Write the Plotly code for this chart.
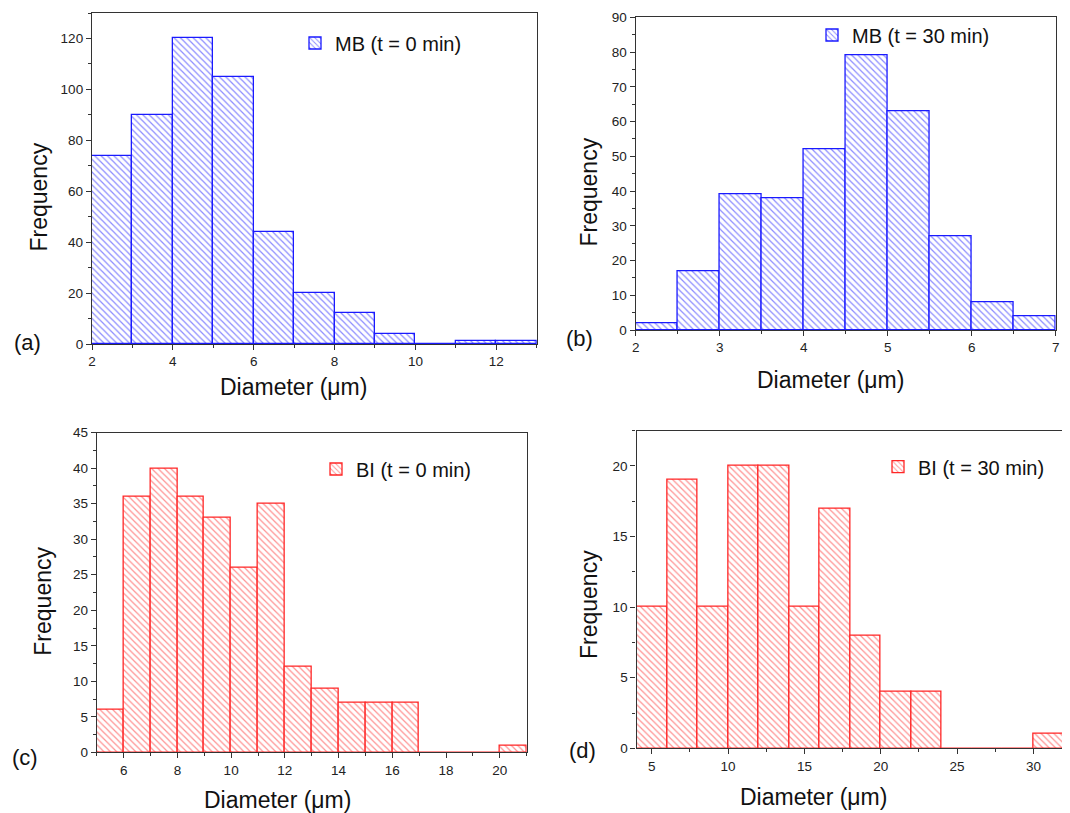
import plotly.graph_objects as go

# ---------------- data ----------------
# (a) MB, t = 0 min  (bin edges in µm, counts)
a_edges = [2, 3, 4, 5, 6, 7, 8, 9, 10, 11, 12, 13]
a_counts = [74, 90, 120, 105, 44, 20, 12, 4, 0, 1, 1]

# (b) MB, t = 30 min
b_edges = [2, 2.5, 3, 3.5, 4, 4.5, 5, 5.5, 6, 6.5, 7]
b_counts = [2, 17, 39, 38, 52, 79, 63, 27, 8, 4]

# (c) BI, t = 0 min
c_edges = [5, 6, 7, 8, 9, 10, 11, 12, 13, 14, 15, 16, 17, 18, 19, 20, 21]
c_counts = [6, 36, 40, 36, 33, 26, 35, 12, 9, 7, 7, 7, 0, 0, 0, 1]

# (d) BI, t = 30 min
d_edges = [4, 6, 8, 10, 12, 14, 16, 18, 20, 22, 24, 26, 28, 30, 32]
d_counts = [10, 19, 10, 20, 20, 10, 17, 8, 4, 4, 0, 0, 0, 1]

names = ["MB (t = 0 min)", "MB (t = 30 min)", "BI (t = 0 min)", "BI (t = 30 min)"]
panel_labels = ["(a)", "(b)", "(c)", "(d)"]
x_title = "Diameter (μm)"
y_title = "Frequency"

BLUE = "#1a1aff"
RED = "#ff2626"
FONT = "Liberation Sans, Arial, sans-serif"

# page body has an 8px default margin: the figure is offset by it
OFF = 8
W, H = 1070 - OFF, 813 - OFF


def px_x(v):
    return (v - OFF) / W


def px_y(v):
    return 1 - (v - OFF) / H


panels = [
    dict(edges=a_edges, counts=a_counts, color=BLUE, name=names[0],
         xdom=[92, 536.7], ydom=[344, 13], xr=[2, 13], yr=[0, 130],
         xd=2, xm=1, yd=20, ym=10,
         leg=(295, 43), lab=(27.5, 342), xt=(293, 387), yt=(38, 197.5)),
    dict(edges=b_edges, counts=b_counts, color=BLUE, name=names[1],
         xdom=[635.7, 1055.7], ydom=[330, 17.3], xr=[2, 7], yr=[0, 90],
         xd=1, xm=0.5, yd=10, ym=5,
         leg=(812, 35), lab=(579, 338), xt=(830.5, 380), yt=(589, 192.5)),
    dict(edges=c_edges, counts=c_counts, color=RED, name=names[2],
         xdom=[96.8, 526.7], ydom=[752.3, 432.7], xr=[5, 21], yr=[0, 45],
         xd=2, xm=1, yd=5, ym=2.5,
         leg=(316, 469), lab=(25, 757), xt=(277, 800), yt=(43, 601.7)),
    dict(edges=d_edges, counts=d_counts, color=RED, name=names[3],
         xdom=[636.5, 1064], ydom=[748.3, 430.7], xr=[4, 32], yr=[0, 22.5],
         xd=5, xm=2.5, yd=5, ym=2.5,
         leg=(878, 466.7), lab=(582, 750), xt=(813, 796.7), yt=(589, 605)),
]

fig = go.Figure()
annotations = []
layout_upd = {}

for i, p in enumerate(panels):
    k = "" if i == 0 else str(i + 1)
    edges, counts = p["edges"], p["counts"]
    centers = [(edges[j] + edges[j + 1]) / 2 for j in range(len(counts))]
    widths = [edges[j + 1] - edges[j] for j in range(len(counts))]
    fig.add_trace(go.Bar(
        x=centers, y=counts, width=widths, name=p["name"],
        xaxis="x" + k, yaxis="y" + k,
        legend="legend" + k,
        marker=dict(color="white",
                    line=dict(color=p["color"], width=1.3),
                    pattern=dict(shape="\\", fgcolor=p["color"], bgcolor="white",
                                 size=4.5, solidity=0.28)),
        showlegend=True,
    ))

    axis_common = dict(
        showline=True, linecolor="#333333", linewidth=1.3, mirror=True,
        ticks="outside", ticklen=5, tickwidth=1.2, tickcolor="#333333",
        showgrid=False, zeroline=False, automargin=False,
        tickfont=dict(family=FONT, size=13.5, color="#222222"),
    )
    layout_upd["xaxis" + k] = dict(
        axis_common, domain=[px_x(p["xdom"][0]), min(1, px_x(p["xdom"][1]))],
        range=p["xr"], tick0=0, dtick=p["xd"], anchor="y" + k,
        minor=dict(ticks="outside", ticklen=3, tick0=0, dtick=p["xm"],
                   tickcolor="#333333", tickwidth=1),
    )
    layout_upd["yaxis" + k] = dict(
        axis_common, domain=[px_y(p["ydom"][0]), px_y(p["ydom"][1])],
        range=p["yr"], tick0=0, dtick=p["yd"], anchor="x" + k,
        minor=dict(ticks="outside", ticklen=3, tick0=0, dtick=p["ym"],
                   tickcolor="#333333", tickwidth=1),
    )
    layout_upd["legend" + k] = dict(
        x=px_x(p["leg"][0]), y=px_y(p["leg"][1]), xanchor="left", yanchor="middle",
        xref="paper", yref="paper",
        bgcolor="rgba(0,0,0,0)", borderwidth=0,
        font=dict(family=FONT, size=20, color="#111111"),
    )
    annotations.append(dict(text=panel_labels[i], x=px_x(p["lab"][0]), y=px_y(p["lab"][1]),
                            xref="paper", yref="paper", showarrow=False,
                            xanchor="center", yanchor="middle",
                            font=dict(family=FONT, size=22, color="#111111")))
    annotations.append(dict(text=x_title, x=px_x(p["xt"][0]), y=px_y(p["xt"][1]),
                            xref="paper", yref="paper", showarrow=False,
                            xanchor="center", yanchor="middle",
                            font=dict(family=FONT, size=23, color="#111111")))
    annotations.append(dict(text=y_title, x=px_x(p["yt"][0]), y=px_y(p["yt"][1]),
                            xref="paper", yref="paper", showarrow=False, textangle=-90,
                            xanchor="center", yanchor="middle",
                            font=dict(family=FONT, size=23, color="#111111")))

fig.update_layout(
    width=W, height=H,
    margin=dict(l=0, r=0, t=0, b=0, autoexpand=False),
    paper_bgcolor="white", plot_bgcolor="white",
    bargap=0,
    annotations=annotations,
    **layout_upd,
)

fig.write_html("out.html")
